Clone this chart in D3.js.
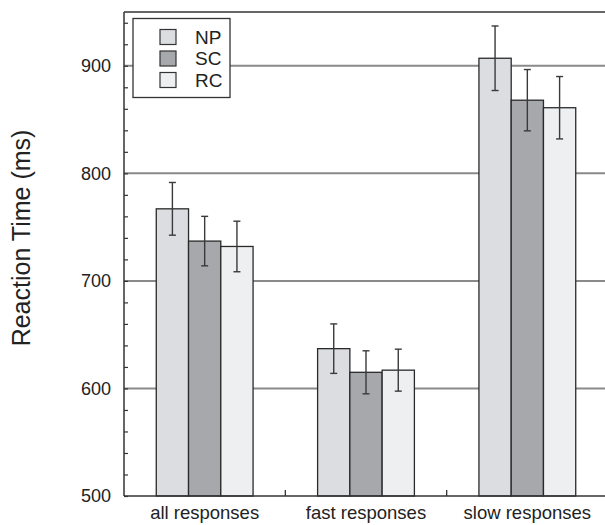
<!DOCTYPE html>
<html>
<head>
<meta charset="utf-8">
<script src="https://cdn.jsdelivr.net/npm/d3@7"></script>
<style>
  body { margin: 0; background: #fff; }
  text { font-family: "Liberation Sans", Arial, sans-serif; fill: #222; }
</style>
</head>
<body>
<script>
// data
var categories = ["all responses", "fast responses", "slow responses"];
var conditions = ["NP", "SC", "RC"];
var npMean = [767, 637, 907];
var scMean = [737, 615, 868];
var rcMean = [732, 617, 861];
var npErr = [24.5, 23, 30];
var scErr = [23, 20, 28.5];
var rcErr = [23.5, 19.5, 29];
var yTicks = [500, 600, 700, 800, 900];
var gridValues = [600, 700, 800, 900];

var colors = { NP: "#dcdde0", SC: "#a7a8ab", RC: "#eeeff1" };

var width = 605, height = 525;
var margin = { left: 124, top: 12, right: -3, bottom: 29 };

var svg = d3.select("body").append("svg")
    .attr("width", width)
    .attr("height", height);

var x = d3.scaleBand()
    .domain(categories)
    .range([margin.left, width - margin.right])
    .paddingInner(0)
    .paddingOuter(0);

var y = d3.scaleLinear()
    .domain([500, 950])
    .range([height - margin.bottom, margin.top]);

// gridlines
svg.append("g").selectAll("line")
    .data(gridValues)
    .enter().append("line")
    .attr("x1", margin.left)
    .attr("x2", width)
    .attr("y1", function(d) { return y(d); })
    .attr("y2", function(d) { return y(d); })
    .attr("stroke", "#8a8a8a")
    .attr("stroke-width", 2);

// build rows
var rows = [];
categories.forEach(function(c, i) {
    rows.push({ cat: c, cond: "NP", mean: npMean[i], err: npErr[i] });
    rows.push({ cat: c, cond: "SC", mean: scMean[i], err: scErr[i] });
    rows.push({ cat: c, cond: "RC", mean: rcMean[i], err: rcErr[i] });
});

var bw = x.bandwidth() * 0.2;
function barX(d) {
    return x(d.cat) + x.bandwidth() / 2 + (conditions.indexOf(d.cond) - 1.5) * bw;
}

svg.append("g").selectAll("rect")
    .data(rows)
    .enter().append("rect")
    .attr("x", barX)
    .attr("y", function(d) { return y(d.mean); })
    .attr("width", bw)
    .attr("height", function(d) { return y(500) - y(d.mean); })
    .attr("fill", function(d) { return colors[d.cond]; })
    .attr("stroke", "#2a2a2a")
    .attr("stroke-width", 1.3);

// error bars
var eb = svg.append("g").attr("stroke", "#3a3a3a").attr("stroke-width", 1.4);
rows.forEach(function(d) {
    var cx = barX(d) + bw / 2;
    eb.append("line").attr("x1", cx).attr("x2", cx)
        .attr("y1", y(d.mean + d.err)).attr("y2", y(d.mean - d.err));
    eb.append("line").attr("x1", cx - 3.5).attr("x2", cx + 3.5)
        .attr("y1", y(d.mean + d.err)).attr("y2", y(d.mean + d.err));
    eb.append("line").attr("x1", cx - 3.5).attr("x2", cx + 3.5)
        .attr("y1", y(d.mean - d.err)).attr("y2", y(d.mean - d.err));
});

// frame: left, top, bottom
var frame = svg.append("g").attr("stroke", "#333").attr("stroke-width", 1.5).attr("fill", "none");
frame.append("line").attr("x1", margin.left).attr("x2", margin.left)
    .attr("y1", y(950)).attr("y2", y(500));
frame.append("line").attr("x1", margin.left).attr("x2", width)
    .attr("y1", y(950)).attr("y2", y(950));
frame.append("line").attr("x1", margin.left).attr("x2", width)
    .attr("y1", y(500)).attr("y2", y(500));

// y axis: inner minor ticks + labels
var yAxis = d3.axisLeft(y)
    .tickValues(d3.range(500, 951, 20))
    .tickSize(-4)
    .tickFormat("");
svg.append("g")
    .attr("transform", "translate(" + margin.left + ",0)")
    .call(yAxis)
    .call(function(g) {
        g.select(".domain").remove();
        g.selectAll(".tick line").attr("stroke", "#333").attr("stroke-width", 1.2);
    });

svg.append("g").selectAll("text")
    .data(yTicks)
    .enter().append("text")
    .attr("x", margin.left - 13)
    .attr("y", function(d) { return y(d); })
    .attr("dy", "0.35em")
    .attr("text-anchor", "end")
    .attr("font-size", 18)
    .text(function(d) { return d; });

// x ticks between groups
svg.append("g").selectAll("line")
    .data(categories.slice(1))
    .enter().append("line")
    .attr("x1", function(d) { return x(d); })
    .attr("x2", function(d) { return x(d); })
    .attr("y1", y(500))
    .attr("y2", y(500) - 6)
    .attr("stroke", "#333")
    .attr("stroke-width", 1.3);

svg.append("g").selectAll("text")
    .data(categories)
    .enter().append("text")
    .attr("x", function(d) { return x(d) + x.bandwidth() / 2; })
    .attr("y", y(500) + 23)
    .attr("text-anchor", "middle")
    .attr("font-size", 18.5)
    .text(function(d) { return d; });

// y title
svg.append("text")
    .attr("transform", "translate(30,238) rotate(-90)")
    .attr("text-anchor", "middle")
    .attr("font-size", 25)
    .text("Reaction Time (ms)");

// legend
var legend = svg.append("g");
legend.append("rect")
    .attr("x", 133).attr("y", 18.5)
    .attr("width", 97).attr("height", 79)
    .attr("fill", "#fff")
    .attr("stroke", "#333")
    .attr("stroke-width", 1.3);
conditions.forEach(function(c, i) {
    legend.append("rect")
        .attr("x", 160).attr("y", 29.5 + i * 21.5)
        .attr("width", 16).attr("height", 15)
        .attr("fill", colors[c])
        .attr("stroke", "#333")
        .attr("stroke-width", 1.2);
    legend.append("text")
        .attr("x", 195).attr("y", 37 + i * 21.5)
        .attr("dy", "0.35em")
        .attr("font-size", 19)
        .text(c);
});
</script>
</body>
</html>
